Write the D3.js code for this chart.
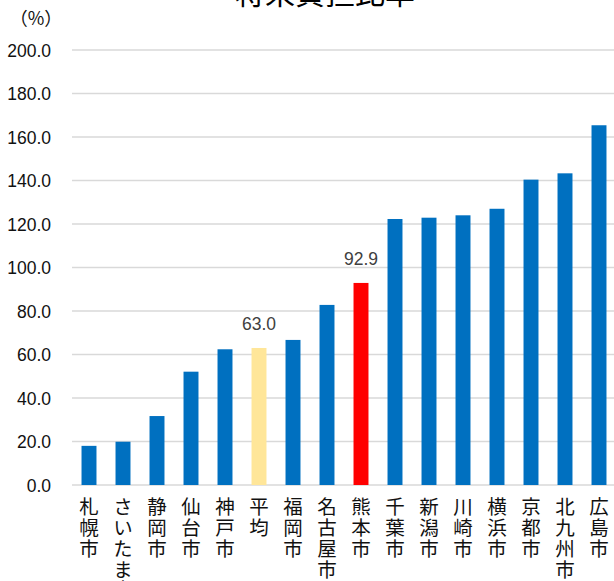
<!DOCTYPE html>
<html><head><meta charset="utf-8">
<script src="https://cdn.jsdelivr.net/npm/d3@7"></script>
<style>body{margin:0;background:#fff;}svg{display:block;}</style>
</head><body>
<svg id="c" width="614" height="581"></svg>
<script>
const titleText = "将来負担比率";
const unitLabel = "（%）";
const categories = ["札幌市","さいたま市","静岡市","仙台市","神戸市","平均","福岡市","名古屋市","熊本市","千葉市","新潟市","川崎市","横浜市","京都市","北九州市","広島市"];
const values = [18.0, 19.9, 31.7, 52.1, 62.4, 63.0, 66.7, 82.8, 92.9, 122.3, 122.9, 124.0, 127.0, 140.4, 143.3, 165.4];
const barColors = ["#0070C0","#0070C0","#0070C0","#0070C0","#0070C0","#FFE699","#0070C0","#0070C0","#FF0000","#0070C0","#0070C0","#0070C0","#0070C0","#0070C0","#0070C0","#0070C0"];
const labeledCategories = ["平均","熊本市"];
const yTicks = [0,20,40,60,80,100,120,140,160,180,200];

const svg = d3.select("#c");
const m = {left:72, right:616, top:50, bottom:485};
const x = d3.scaleBand().domain(categories).range([m.left, m.right]).paddingInner(0.56).paddingOuter(0.28);
const y = d3.scaleLinear().domain([0,200]).range([m.bottom, m.top]);
const font = "'Noto Sans CJK JP', sans-serif";
const numFont = "'Liberation Sans', Arial, sans-serif";

// gridlines
svg.append("g").selectAll("line").data(yTicks).join("line")
  .attr("x1", m.left).attr("x2", 614)
  .attr("y1", d=>y(d)).attr("y2", d=>y(d))
  .attr("stroke", "#d9d9d9").attr("stroke-width", 1.5);

// y axis labels
const yAxis = d3.axisLeft(y).tickValues(yTicks).tickFormat(d3.format(".1f")).tickSize(0).tickPadding(0);
const ga = svg.append("g").attr("transform", `translate(51,0)`).call(yAxis);
ga.select(".domain").remove();
ga.selectAll("text").attr("font-family", numFont).attr("font-size", 17.5).attr("fill", "#111").attr("dy","0.36em");

// bars
svg.append("g").selectAll("rect").data(categories).join("rect")
  .attr("x", d=>x(d)).attr("width", x.bandwidth())
  .attr("y", (d,i)=>y(values[i])).attr("height", (d,i)=>y(0)-y(values[i]))
  .attr("fill", (d,i)=>barColors[i]);

// value labels
svg.append("g").selectAll("text").data(categories.filter(c=>labeledCategories.includes(c))).join("text")
  .attr("x", d=>x(d)+x.bandwidth()/2)
  .attr("y", d=>y(values[categories.indexOf(d)]) - 18)
  .attr("text-anchor","middle")
  .attr("font-family", numFont).attr("font-size", 17.5).attr("fill", "#404040")
  .text(d=>values[categories.indexOf(d)].toFixed(1));

// category labels (vertical)
svg.append("g").selectAll("text").data(categories).join("text")
  .attr("x", d=>x(d)+x.bandwidth()/2)
  .attr("y", 497)
  .attr("writing-mode", "vertical-rl")
  .style("text-orientation", "upright")
  .style("letter-spacing", "1.3px")
  .attr("font-family", font).attr("font-size", 19.5).attr("fill", "#111")
  .text(d=>d);

// unit
svg.append("text").attr("x", 36).attr("y", 25).attr("text-anchor","middle")
  .attr("font-family", font).attr("font-size", 18).attr("fill","#111").text(unitLabel);

// title
svg.append("text").attr("x", 325).attr("y", 4).attr("text-anchor","middle")
  .attr("font-family", font).attr("font-size", 30).attr("fill","#000").text(titleText);
</script>
</body></html>
